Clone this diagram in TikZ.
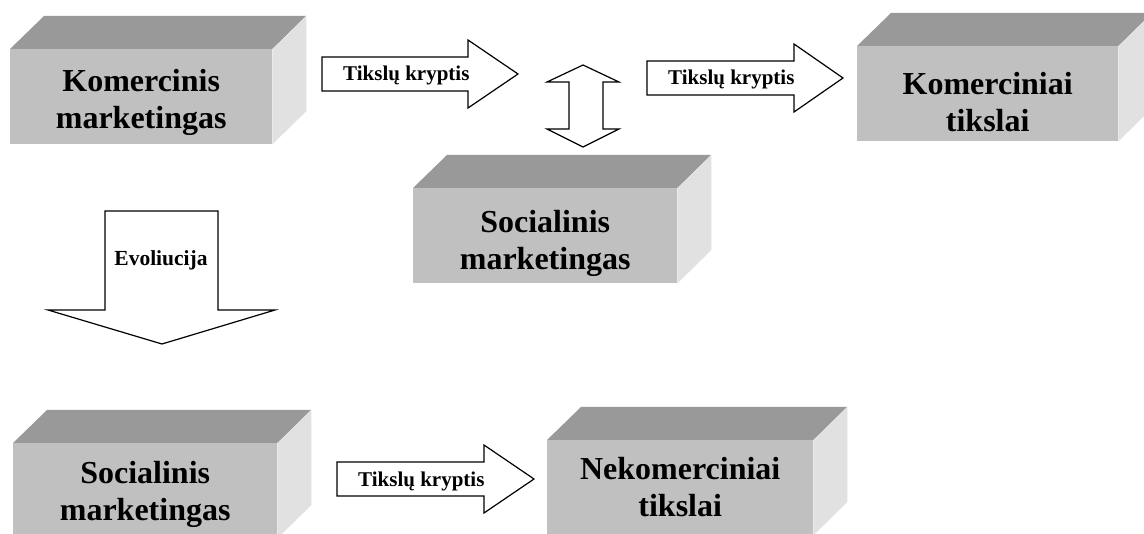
\documentclass[tikz,border=0pt]{standalone}
\usepackage{fontspec}
\setmainfont{Liberation Serif}
\usetikzlibrary{calc}
\definecolor{priekis}{HTML}{C0C0C0}
\definecolor{virsus}{HTML}{999999}
\definecolor{sonas}{HTML}{E1E1E1}
\begin{document}
\begin{tikzpicture}[x=1pt, y=-1pt,
    dezes/.style={fill=priekis, inner sep=0pt, anchor=north west, minimum height=95pt},
    tekstas/.style={inner sep=0pt, align=center, font=\fontsize{32}{37}\selectfont\bfseries,
      execute at begin node={\rule{0pt}{23pt}}, execute at end node={\rule[-7pt]{0pt}{7pt}}},
    rodykle/.style={draw=black, fill=white, line width=1.2pt, line join=miter},
    uzrasas/.style={inner sep=0pt, font=\fontsize{21}{24}\selectfont\bfseries}]

  \useasboundingbox (0,0) rectangle (1144,534);

  % 1. Dezes: priekis, virsus ir sonas
  \foreach \x/\y/\w/\s/\n/\t in {
      10/49/262/43/kommark/{Komercinis\\marketingas},
      857/46/261/49/komtiksl/{Komerciniai\\tikslai},
      413/188/264/45/socmark/{Socialinis\\marketingas},
      13/443/264/41/socmark2/{Socialinis\\marketingas},
      547/440/266/40/nekomtiksl/{Nekomerciniai\\tikslai}} {
    \node[dezes, minimum width=\w pt] (\n) at (\x,\y) {};
    \fill[virsus] (\n.north west) -- ++(34,-33) -- ++(\w,0) -- (\n.north east) -- cycle;
    \fill[sonas] (\n.north east) -- ++(34,-33) -- ++(0,95) -- (\n.south east) -- cycle;
    \node[tekstas] (\n-t) at ($(\n.north)+(0,\s+10.5)$) {\t};
  }

  % 2. Rodykles "Tikslu kryptis"
  \foreach \xa/\xb/\xc/\c/\n in {322/468/518/74/kryptis1,
                                 647/794/843/78/kryptis2,
                                 337/484/534/479/kryptis3} {
    \draw[rodykle] (\xa,\c-17) -- (\xb,\c-17) -- (\xb,\c-34) -- (\xc,\c)
      -- (\xb,\c+34) -- (\xb,\c+17) -- (\xa,\c+17) -- cycle;
    \node[uzrasas, anchor=base west] (\n) at (\xa+21,\c+7) {Tikslų kryptis};
  }

  % 3. Dviguba rodykle
  \draw[rodykle] (583,65) -- (619,82) -- (603,82) -- (603,129) -- (619,129)
    -- (583,147) -- (547,129) -- (569,129) -- (569,82) -- (547,82) -- cycle;

  % 4. Evoliucija
  \draw[rodykle] (105,211) -- (218,211) -- (218,310) -- (275,310)
    -- (162,344) -- (48,310) -- (105,310) -- cycle;
  \node[uzrasas, anchor=base, font=\fontsize{21.5}{24}\selectfont\bfseries] (evoliucija) at (161,266) {Evoliucija};

\end{tikzpicture}
\end{document}
